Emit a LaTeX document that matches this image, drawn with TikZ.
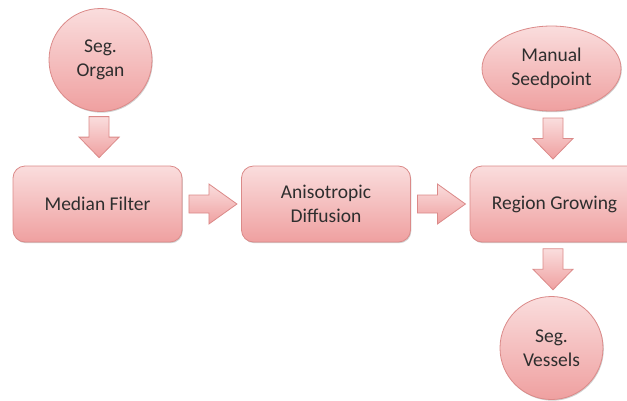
\documentclass[tikz,border=0pt]{standalone}
\usepackage{fontspec}
\setmainfont{Carlito}
\usetikzlibrary{calc,shadows,shapes.geometric}
\definecolor{pinktop}{HTML}{FADDDD}
\definecolor{pinkbot}{HTML}{EFA0A0}
\definecolor{pinkline}{HTML}{DB8A89}
\definecolor{txt}{HTML}{2E2E2E}
\tikzset{
  pinkfill/.style={draw=pinkline, line width=0.8pt, top color=pinktop, bottom color=pinkbot,
    drop shadow={shadow xshift=0.8pt, shadow yshift=-1.2pt, opacity=0.18, fill=black}},
  label font/.style={font=\fontsize{19.5}{24.5}\selectfont, text=txt, align=center},
  stage/.style={pinkfill, label font, rounded corners=12pt, minimum width=169pt,
    minimum height=76pt, inner sep=0pt},
  terminal/.style={pinkfill, label font, circle, minimum size=103pt, inner sep=0pt},
  seedshape/.style={pinkfill, label font, ellipse, minimum width=139pt,
    minimum height=85pt, inner sep=0pt},
  bigarrow/.style={draw=pinkline, line width=0.8pt, top color=pinktop, bottom color=pinkbot,
    line join=miter},
  pics/arrowright/.style={code={
    \draw[bigarrow] (-24,-9) -- (-4,-9) -- (-4,-20) -- (24,0) -- (-4,20) -- (-4,9) -- (-24,9) -- cycle;}},
  pics/arrowdown/.style={code={
    \draw[bigarrow] (-10,-20.5) -- (10,-20.5) -- (10,0) -- (20,0) -- (0,20.5) -- (-20,0) -- (-10,0) -- cycle;}},
}
\begin{document}
\begin{tikzpicture}[x=1pt,y=-1pt]
  \useasboundingbox (0,0) rectangle (627,400);
  \clip (0,0) rectangle (627,400);
  % processing stages
  \node[stage] (median) at (97.5,204) {Median Filter};
  \node[stage] (aniso) at (326,204) {Anisotropic\\Diffusion};
  \node[stage] (region) at (554.5,204) {Region Growing};
  % inputs and output
  \node[terminal] (organ) at (100.5,60) {Seg.\\Organ};
  \node[seedshape] (seed) at (551.5,68.5) {Manual\\Seedpoint};
  \node[terminal] (vessels) at (551.5,348) {Seg.\\Vessels};
  % block arrows between the steps
  \path (organ.south) -- (median.north) coordinate[pos=0.47] (a1);
  \pic at (a1) {arrowdown};
  \path (median.east) -- (aniso.west) coordinate[pos=0.52] (a2);
  \pic at (a2) {arrowright};
  \path (aniso.east) -- (region.west) coordinate[pos=0.52] (a3);
  \pic at (a3) {arrowright};
  \path (seed.south) -- (region.north) coordinate[pos=0.5] (a4);
  \pic at (a4) {arrowdown};
  \path (region.south) -- (vessels.north) coordinate[pos=0.5] (a5);
  \pic at (a5) {arrowdown};
\end{tikzpicture}
\end{document}
